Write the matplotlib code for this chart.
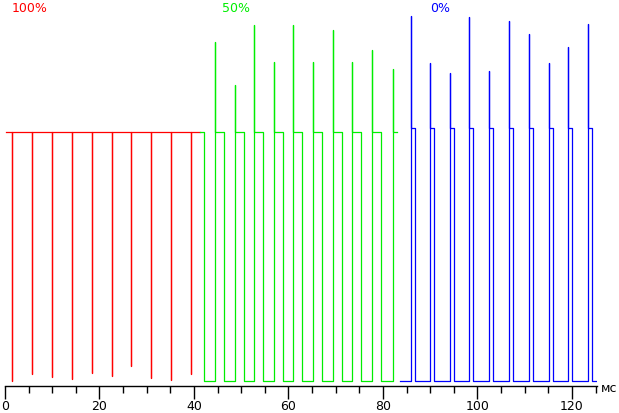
import numpy as np
import matplotlib.pyplot as plt

# red (100%): high level with short downward drops
red_drop_t = [1.5, 5.7, 9.9, 14.2, 18.4, 22.6, 26.7, 30.9, 35.2, 39.4]
red_drop_y = [4, 11, 8, 6, 12, 9, 19, 7, 5, 11]
red_high = 254
red_span = (0.3, 41.3)

# green (50%): rises with overshoot spikes
green_rise_t = [44.4, 48.7, 52.7, 56.9, 61.0, 65.2, 69.4, 73.4, 77.7, 82.1]
green_fall_t = [42.1, 46.3, 50.6, 54.6, 58.8, 62.9, 67.1, 71.3, 75.3, 79.6]
green_peak = [344, 301, 361, 324, 361, 324, 356, 324, 336, 317]
green_high = 254
green_span = (41.3, 83.0)

# blue (0%): narrow pulses with spikes
blue_rise_t = [85.9, 90.0, 94.2, 98.2, 102.4, 106.7, 110.9, 115.1, 119.2, 123.4]
blue_peak = [370, 323, 313, 369, 315, 365, 352, 323, 339, 362]
blue_width = 0.9
blue_high = 258
blue_span = (83.5, 125.1)

low = 4


def red_trace():
    xs, ys = [red_span[0]], [red_high]
    for t, y in zip(red_drop_t, red_drop_y):
        xs += [t, t, t + 0.02, t + 0.02]
        ys += [red_high, y, y, red_high]
    xs.append(red_span[1]); ys.append(red_high)
    return xs, ys


def green_trace():
    xs, ys = [green_span[0]], [green_high]
    for f, r, p in zip(green_fall_t, green_rise_t, green_peak):
        xs += [f, f, r, r, r + 0.02, r + 0.02]
        ys += [green_high, low, low, p, p, green_high]
    xs.append(green_span[1]); ys.append(green_high)
    return xs, ys


def blue_trace():
    xs, ys = [blue_span[0]], [low]
    for r, p in zip(blue_rise_t, blue_peak):
        f = r + blue_width
        xs += [r, r, r + 0.02, r + 0.02, f, f]
        ys += [low, p, p, blue_high, blue_high, low]
    xs.append(blue_span[1]); ys.append(low)
    return xs, ys


fig = plt.figure(figsize=(6.19, 4.13), dpi=100)
ax = fig.add_axes([5 / 619, 27 / 413, 592 / 619, 386 / 413])

for fn, c in [(red_trace, '#ff0000'), (green_trace, '#00ee00'), (blue_trace, '#0000ff')]:
    x, y = fn()
    ax.plot(x, y, color=c, lw=0.9)

ax.set_xlim(0, 125.3)
ax.set_ylim(-1, 386)
for s in ['top', 'right', 'left']:
    ax.spines[s].set_visible(False)
ax.spines['bottom'].set_linewidth(1.0)
ax.set_yticks([])
ax.set_xticks(np.arange(0, 121, 20))
ax.set_xticks(np.arange(0, 126, 5), minor=True)
ax.tick_params(axis='x', which='major', length=9, width=1, labelsize=9, pad=1)
ax.tick_params(axis='x', which='minor', length=5, width=1)

fig.text(12 / 619, 1 - 2 / 413, '100%', color='#ff0000', fontsize=9, va='top')
fig.text(222 / 619, 1 - 2 / 413, '50%', color='#00ee00', fontsize=9, va='top')
fig.text(430 / 619, 1 - 2 / 413, '0%', color='#0000ff', fontsize=9, va='top')
fig.text(601 / 619, 1 - 388 / 413, 'мс', fontsize=9, va='center')

fig.savefig('out.png', dpi=100)
